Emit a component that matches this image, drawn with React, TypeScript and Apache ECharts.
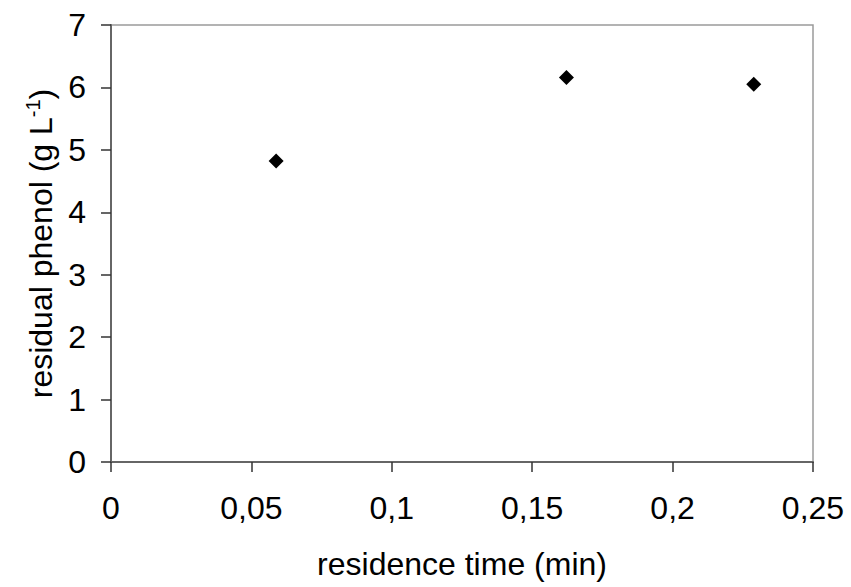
import React, { useEffect, useRef } from "react";
import * as echarts from "echarts";

const residenceTime = [0.0588, 0.1622, 0.2289];
const residualPhenol = [4.82, 6.16, 6.05];
const xTicks = [0, 0.05, 0.1, 0.15, 0.2, 0.25];
const yTicks = [0, 1, 2, 3, 4, 5, 6, 7];

const FONT = "'Liberation Sans', Arial, sans-serif";

export default function App() {
  const ref = useRef<HTMLDivElement>(null);
  useEffect(() => {
    document.body.style.margin = "0";
    const chart = echarts.init(ref.current!, null, { renderer: "svg" });
    const data = residenceTime.map((x, i) => [x, residualPhenol[i]]);
    chart.setOption({
      animation: false,
      backgroundColor: "#ffffff",
      grid: {
        left: 111,
        top: 25,
        right: 38,
        bottom: 125,
        show: true,
        borderColor: "#9a9a9a",
        borderWidth: 1.5,
        containLabel: false,
        outerBoundsMode: "none",
      },
      xAxis: {
        type: "value",
        min: xTicks[0],
        max: xTicks[xTicks.length - 1],
        interval: 0.05,
        name: "residence time (min)",
        nameLocation: "middle",
        nameGap: 86,
        nameTextStyle: { fontFamily: FONT, fontSize: 32, color: "#000" },
        axisLine: { show: true, onZero: false, lineStyle: { color: "#666", width: 2 } },
        axisTick: { show: true, length: 10, lineStyle: { color: "#333", width: 1.5 } },
        axisLabel: {
          fontFamily: FONT,
          fontSize: 32,
          color: "#000",
          margin: 30,
          formatter: (v: number) => String(+v.toFixed(2)).replace(".", ","),
        },
        splitLine: { show: false },
      },
      yAxis: {
        type: "value",
        min: yTicks[0],
        max: yTicks[yTicks.length - 1],
        interval: 1,
        name: "{a|residual phenol (g L}{b|-1}{a|)}",
        nameLocation: "middle",
        nameGap: 52,
        nameTextStyle: {
          fontFamily: FONT,
          fontSize: 32,
          color: "#000",
          rich: {
            a: { fontFamily: FONT, fontSize: 32, color: "#000", lineHeight: 36 },
            b: { fontFamily: FONT, fontSize: 20, color: "#000", lineHeight: 36, verticalAlign: "top", padding: [0, 0, 14, 0] },
          },
        },
        axisLine: { show: true, onZero: false, lineStyle: { color: "#666", width: 2 } },
        axisTick: { show: true, length: 10, lineStyle: { color: "#333", width: 1.5 } },
        axisLabel: { fontFamily: FONT, fontSize: 32, color: "#000", margin: 25 },
        splitLine: { show: false },
      },
      series: [
        {
          type: "scatter",
          data,
          symbol: "diamond",
          symbolSize: 15,
          itemStyle: { color: "#000", opacity: 1 },
        },
      ],
    });
    return () => chart.dispose();
  }, []);
  return <div ref={ref} style={{ position: "absolute", left: 0, top: 0, width: 851, height: 587 }} />;
}
